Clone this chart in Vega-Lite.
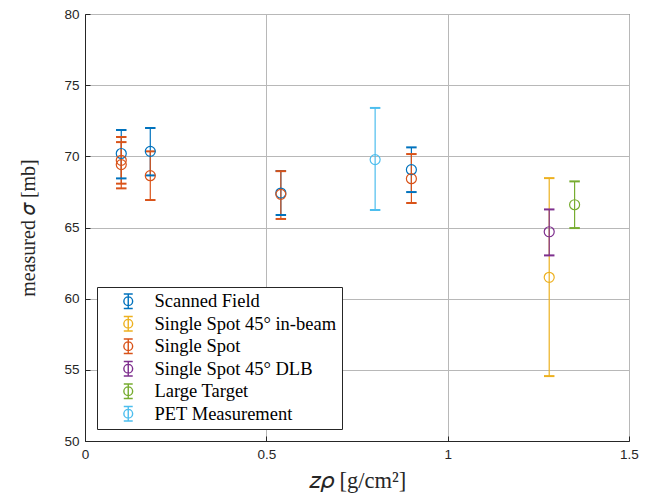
{
  "$schema": "https://vega.github.io/schema/vega-lite/v6.json",
  "width": 544,
  "height": 427,
  "autosize": {"type": "none"},
  "padding": {"left": 85, "top": 14, "right": 21, "bottom": 57},
  "background": "white",
  "config": {
    "view": {"stroke": "#262626", "strokeWidth": 1},
    "axis": {
      "domainColor": "#262626",
      "tickColor": "#262626",
      "labelColor": "#262626",
      "labelFont": "Liberation Sans",
      "labelFontSize": 13.5,
      "titleFont": "Liberation Serif",
      "titleFontSize": 20,
      "titleFontWeight": "normal",
      "titleColor": "#262626",
      "gridColor": "#b8b8b8",
      "gridOpacity": 1,
      "gridWidth": 1,
      "tickSize": -5,
      "labelPadding": 11
    },
    "legend": {
      "orient": "none",
      "legendX": 12,
      "legendY": 273,
      "padding": 5,
      "strokeColor": "#262626",
      "fillColor": "white",
      "cornerRadius": 0,
      "symbolType": "M0,-0.9L0,0.9M-0.56,-0.9L0.56,-0.9M-0.56,0.9L0.56,0.9M0.55,0A0.55,0.55,0,1,1,-0.55,0A0.55,0.55,0,1,1,0.55,0",
      "symbolSize": 256,
      "symbolStrokeWidth": 1.4,
      "symbolFillColor": "transparent",
      "symbolOffset": 17,
      "labelOffset": 17,
      "labelFont": "Liberation Serif",
      "labelFontSize": 18.5,
      "labelColor": "#000000",
      "labelLimit": 0,
      "rowPadding": 1.5
    }
  },
  "data": {
    "values": [
      {"series": "Scanned Field", "x": 0.10, "y": 70.2, "lo": 68.45, "hi": 71.85},
      {"series": "Scanned Field", "x": 0.18, "y": 70.35, "lo": 68.66, "hi": 71.99},
      {"series": "Scanned Field", "x": 0.54, "y": 67.42, "lo": 65.88, "hi": 68.97},
      {"series": "Scanned Field", "x": 0.90, "y": 69.06, "lo": 67.49, "hi": 70.63},
      {"series": "Single Spot 45° in-beam", "x": 1.28, "y": 61.5, "lo": 54.56, "hi": 68.47},
      {"series": "Single Spot", "x": 0.10, "y": 69.72, "lo": 68.08, "hi": 71.36},
      {"series": "Single Spot", "x": 0.10, "y": 69.42, "lo": 67.75, "hi": 71.0},
      {"series": "Single Spot", "x": 0.18, "y": 68.64, "lo": 66.93, "hi": 70.35},
      {"series": "Single Spot", "x": 0.54, "y": 67.33, "lo": 65.6, "hi": 68.96},
      {"series": "Single Spot", "x": 0.90, "y": 68.43, "lo": 66.72, "hi": 70.16},
      {"series": "Single Spot 45° DLB", "x": 1.28, "y": 64.7, "lo": 63.04, "hi": 66.27},
      {"series": "Large Target", "x": 1.35, "y": 66.6, "lo": 64.96, "hi": 68.24},
      {"series": "PET Measurement", "x": 0.80, "y": 69.77, "lo": 66.23, "hi": 73.4}
    ]
  },
  "encoding": {
    "x": {
      "field": "x", "type": "quantitative",
      "scale": {"domain": [0, 1.5], "nice": false, "zero": false},
      "axis": {"values": [0, 0.5, 1, 1.5], "format": "~g", "title": "𝑧𝜌 [g/cm²]", "titlePadding": 9, "titleFontSize": 22.5, "labelFlush": false}
    },
    "color": {
      "field": "series", "type": "nominal",
      "scale": {
        "domain": ["Scanned Field", "Single Spot 45° in-beam", "Single Spot", "Single Spot 45° DLB", "Large Target", "PET Measurement"],
        "range": ["#0072BD", "#EDB120", "#D95319", "#7E2F8E", "#77AC30", "#4DBEEE"]
      },
      "legend": {"title": null}
    }
  },
  "layer": [
    {
      "mark": {"type": "rule", "strokeWidth": 1.2},
      "encoding": {
        "y": {
          "field": "lo", "type": "quantitative",
          "scale": {"domain": [50, 80], "nice": false, "zero": false},
          "axis": {"values": [50, 55, 60, 65, 70, 75, 80], "title": "measured 𝜎 [mb]", "titlePadding": 25, "labelFlush": false}
        },
        "y2": {"field": "hi"}
      }
    },
    {
      "mark": {"type": "point", "shape": "M-1,0L1,0", "filled": false, "size": 110, "strokeWidth": 2, "opacity": 1},
      "encoding": {"y": {"field": "lo", "type": "quantitative"}}
    },
    {
      "mark": {"type": "point", "shape": "M-1,0L1,0", "filled": false, "size": 110, "strokeWidth": 2, "opacity": 1},
      "encoding": {"y": {"field": "hi", "type": "quantitative"}}
    },
    {
      "mark": {"type": "point", "shape": "circle", "filled": false, "size": 100, "strokeWidth": 1.2, "opacity": 1},
      "encoding": {
        "y": {"field": "y", "type": "quantitative"}
      }
    }
  ]
}
